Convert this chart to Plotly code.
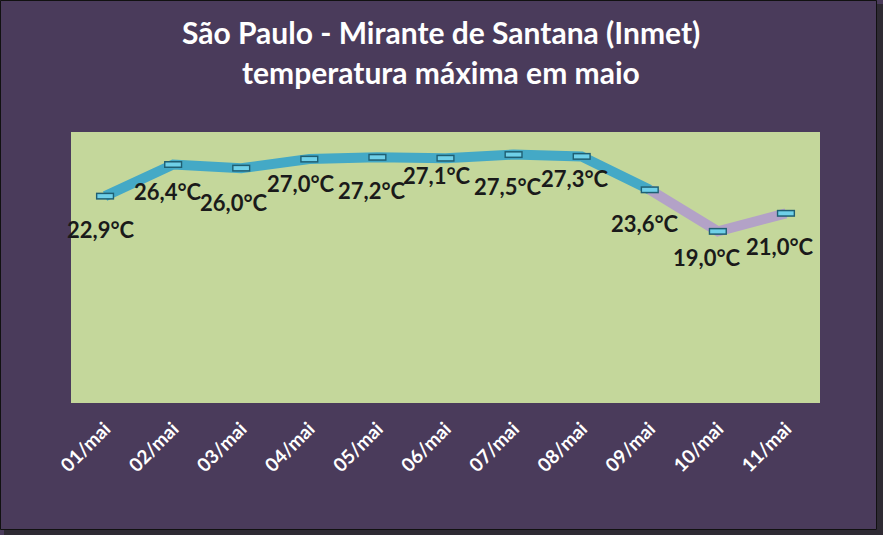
import plotly.graph_objects as go

categories = ["01/mai", "02/mai", "03/mai", "04/mai", "05/mai", "06/mai",
              "07/mai", "08/mai", "09/mai", "10/mai", "11/mai"]
temps = [22.9, 26.4, 26.0, 27.0, 27.2, 27.1, 27.5, 27.3, 23.6, 19.0, 21.0]
labels = ["22,9°C", "26,4°C", "26,0°C", "27,0°C", "27,2°C", "27,1°C",
          "27,5°C", "27,3°C", "23,6°C", "19,0°C", "21,0°C"]
title_lines = ["São Paulo - Mirante de Santana (Inmet)", "temperatura máxima em maio"]
# label offsets (px) relative to each point
label_dx = [-4, -5, -7, -8, -5, -9, -6, -7, -5, -11, -6]
label_dy = [-33, -27, -34, -24, -33, -17, -32, -22, -34, -26, -33]

BG = "#4a3b5b"
PLOT_BG = "#c4d79b"
TEAL = "#44a9c6"
LILAC = "#b3a2c7"

fig = go.Figure()
fig.add_trace(go.Scatter(x=categories[:9], y=temps[:9], mode="lines",
                         line=dict(color=TEAL, width=10), hoverinfo="skip"))
fig.add_trace(go.Scatter(x=categories[8:], y=temps[8:], mode="lines",
                         line=dict(color=LILAC, width=10), hoverinfo="skip"))
fig.add_trace(go.Scatter(x=categories, y=temps, mode="markers", hoverinfo="skip",
                         marker=dict(symbol="line-ew", size=13,
                                     line=dict(color="#1f5f73", width=7))))
fig.add_trace(go.Scatter(x=categories, y=temps, mode="markers",
                         marker=dict(symbol="line-ew", size=11,
                                     line=dict(color="#6fd0e8", width=4))))

for c, v, t, dx, dy in zip(categories, temps, labels, label_dx, label_dy):
    fig.add_annotation(x=c, y=v, text=t, showarrow=False, xshift=dx, yshift=dy,
                       font=dict(family="Lato", size=22, color="#1a1a1a", weight="bold"))

# figure outline and shadow (paper coordinates relative to plot area)
W, H = 883, 535
L, R, T, B = 71, 63, 132, 132
pw, ph = W - L - R, H - T - B
def px(x): return (x - L) / pw
def py(y): return (H - B - y) / ph

for line, ypix in zip(title_lines, [32, 72]):
    fig.add_annotation(xref="paper", yref="paper", x=px(441), y=py(ypix), text=line,
                       showarrow=False, xanchor="center", yanchor="middle",
                       font=dict(family="Lato", size=30, color="white", weight="bold"))

fig.add_shape(type="rect", xref="paper", yref="paper", x0=px(877), x1=px(883),
              y0=py(535), y1=py(4), fillcolor="#2e2a33", line_width=0, layer="below")
fig.add_shape(type="rect", xref="paper", yref="paper", x0=px(4), x1=px(883),
              y0=py(535), y1=py(530), fillcolor="#2e2a33", line_width=0, layer="below")
fig.add_shape(type="rect", xref="paper", yref="paper", x0=px(0.5), x1=px(876.5),
              y0=py(529.5), y1=py(0.5), line=dict(color="#111111", width=1), layer="below")

fig.update_layout(
    width=W, height=H,
    margin=dict(l=L, r=R, t=T, b=B),
    paper_bgcolor=BG, plot_bgcolor=PLOT_BG,
    showlegend=False,
    xaxis=dict(type="category", range=[-0.5, 10.5], showgrid=False, zeroline=False,
               tickangle=-45, tickfont=dict(family="Lato", size=19, color="white", weight="bold"),
               ticks="", showline=False, ticklabelstandoff=10),
    yaxis=dict(range=[0, 30], showgrid=False, zeroline=False, showticklabels=False,
               ticks="", showline=False),
)

fig.write_html("out.html", config={"displayModeBar": False},
               post_script="document.body.style.margin='0';document.body.style.padding='0';")
